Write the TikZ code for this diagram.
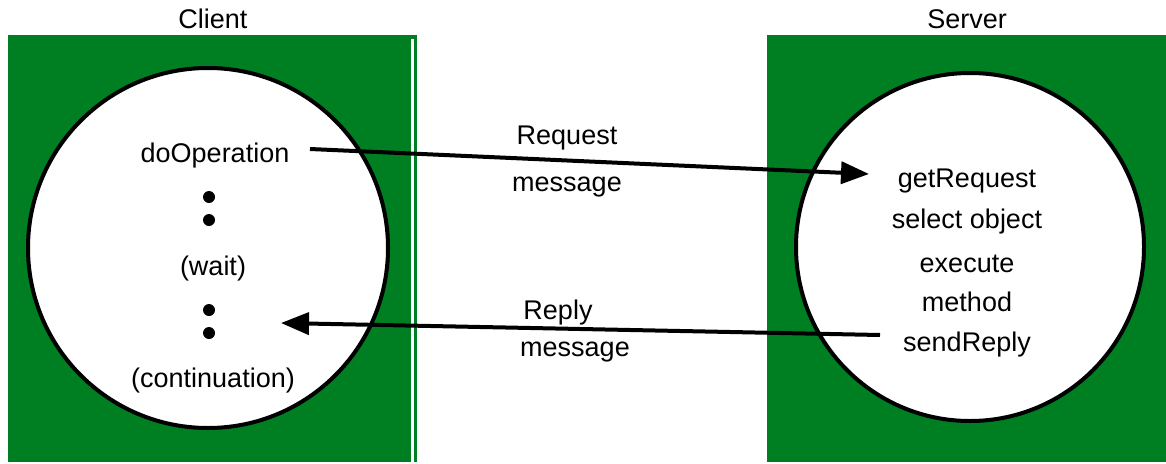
\documentclass[tikz,border=0pt]{standalone}
\usepackage{fontspec}
\setmainfont{Liberation Sans}
\usetikzlibrary{arrows.meta}
\definecolor{bggreen}{RGB}{0,126,34}
\tikzset{
  panel/.style={fill=bggreen, draw=none},
  bubble/.style={circle, draw=black, line width=4pt, fill=white, inner sep=0pt},
  lbl/.style={font=\fontsize{27}{30}\selectfont, inner sep=0pt, anchor=center},
  dotmark/.style={circle, fill=black, inner sep=0pt, minimum size=12pt},
  msg/.style={line width=4pt, -{Triangle[length=28pt,width=22pt]}, shorten >=0pt}
}
\begin{document}
\begin{tikzpicture}[x=1pt,y=-1pt]
\useasboundingbox (0,0) rectangle (1166,463);
% panels
\fill[panel] (8,35) rectangle (417,462);
\fill[white] (411,39) rectangle (414,462);
\fill[panel] (767,35) rectangle (1166,462);
% titles
\node[lbl] (client) at (213,19) {Client};
\node[lbl] (server) at (967,19) {Server};
% circles
\node[bubble, minimum size=360pt] (cc) at (208,248) {};
\node[bubble, minimum size=348pt] (sc) at (970,247) {};
% client texts
\node[lbl] (dop) at (215,156) {doOperation};
\node[dotmark] (d1) at (209,197) {};
\node[dotmark] (d2) at (209,220) {};
\node[lbl] (wait) at (213,269) {(wait)};
\node[dotmark] (d3) at (209,310) {};
\node[dotmark] (d4) at (209,333) {};
\node[lbl] (cont) at (213,381) {(continuation)};
% server texts
\node[lbl] (greq) at (967,181) {getRequest};
\node[lbl] (sel) at (967,222) {select object};
\node[lbl] (exe) at (967,264) {execute};
\node[lbl] (meth) at (967,302) {method};
\node[lbl] (srep) at (967,345) {sendReply};
% message labels
\node[lbl] (req) at (567,138) {Request};
\node[lbl] (reqm) at (567,187) {message};
\node[lbl] (rep) at (558,313) {Reply};
\node[lbl] (repm) at (575,352) {message};
% connectors
\coordinate (reqs) at (310,149);
\coordinate (reqe) at (869,174);
\coordinate (reps) at (880,335);
\coordinate (repe) at (281,323);
\draw[msg] (reqs) -- (reqe);
\draw[msg] (reps) -- (repe);
\end{tikzpicture}
\end{document}
